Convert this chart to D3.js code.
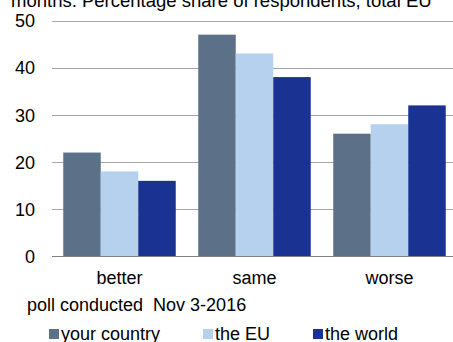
<!DOCTYPE html>
<html>
<head>
<meta charset="utf-8">
<script src="https://cdn.jsdelivr.net/npm/d3@7/dist/d3.min.js"></script>
<style>
  html, body { margin: 0; padding: 0; background: #fff; }
  svg { display: block; font-family: "Liberation Sans", Arial, sans-serif; }
  text { white-space: pre; }
</style>
</head>
<body>
<svg id="chart" width="453" height="342"></svg>
<script>
// Expectations poll: share of respondents (%)
const categories = ["better", "same", "worse"];
const seriesNames = ["your country", "the EU", "the world"];
const yourCountry = [22, 47, 26];
const theEU = [18, 43, 28];
const theWorld = [16, 38, 32];
const yTicks = [0, 10, 20, 30, 40, 50];
const titleText = "months. Percentage share of respondents, total EU";
const noteText = "poll conducted  Nov 3-2016";

const colors = ["#5c7188", "#b5d1ee", "#1a3393"];
const seriesValues = [yourCountry, theEU, theWorld];

const svg = d3.select("#chart");
const plot = { left: 52, right: 457, top: 20.5, bottom: 256.3 };

const x0 = d3.scaleBand().domain(categories)
  .range([plot.left, plot.right]).paddingInner(1 / 6).paddingOuter(1 / 12);
const x1 = d3.scaleBand().domain(seriesNames)
  .range([0, x0.bandwidth()]).padding(0);
const y = d3.scaleLinear().domain([0, 50]).range([plot.bottom, plot.top]);

// title line, partly clipped at the top edge
svg.append("text")
  .attr("x", 11).attr("y", 7)
  .attr("font-size", 18.5).attr("fill", "#000")
  .text(titleText);

// gridlines
svg.append("g").selectAll("line")
  .data(yTicks.filter(d => d > 0))
  .join("line")
  .attr("x1", plot.left).attr("x2", 453)
  .attr("y1", d => Math.round(y(d)) + 0.5).attr("y2", d => Math.round(y(d)) + 0.5)
  .attr("stroke", "#a6a6a6").attr("stroke-width", 1);

// y axis labels
const yAxis = d3.axisLeft(y).tickValues(yTicks).tickSize(0).tickPadding(0);
const gy = svg.append("g").attr("transform", `translate(${plot.left - 17},0)`).call(yAxis);
gy.select(".domain").remove();
gy.selectAll("text").attr("font-size", 18).attr("fill", "#000")
  .attr("font-family", "Liberation Sans, Arial, sans-serif").attr("dy", "0.35em");

// bars
const groups = svg.append("g").selectAll("g")
  .data(categories)
  .join("g")
  .attr("transform", d => `translate(${x0(d)},0)`);

groups.selectAll("rect")
  .data((c, i) => seriesNames.map((s, k) => ({ s, k, v: seriesValues[k][i] })))
  .join("rect")
  .attr("x", d => x1(d.s))
  .attr("width", x1.bandwidth())
  .attr("y", d => y(d.v))
  .attr("height", d => y(0) - y(d.v))
  .attr("fill", d => colors[d.k]);

// baseline
svg.append("line")
  .attr("x1", plot.left).attr("x2", 453)
  .attr("y1", Math.round(y(0)) + 0.5).attr("y2", Math.round(y(0)) + 0.5)
  .attr("stroke", "#808080").attr("stroke-width", 1.2);

// category labels
const xAxis = d3.axisBottom(x0).tickSize(0).tickPadding(0);
const gx = svg.append("g").attr("transform", `translate(0,${plot.bottom})`).call(xAxis);
gx.select(".domain").remove();
gx.selectAll("text").attr("font-size", 18).attr("fill", "#000")
  .attr("font-family", "Liberation Sans, Arial, sans-serif")
  .attr("dy", null).attr("y", 28);

// note
svg.append("text")
  .attr("x", 27).attr("y", 311)
  .attr("font-size", 18).attr("fill", "#000")
  .text(noteText);

// legend
const legendX = [49, 203, 313];
const legend = svg.append("g").selectAll("g")
  .data(seriesNames)
  .join("g")
  .attr("transform", (d, i) => `translate(${legendX[i]},0)`);
legend.append("rect")
  .attr("x", 0).attr("y", 329).attr("width", 10).attr("height", 10)
  .attr("fill", (d, i) => colors[i]);
legend.append("text")
  .attr("x", 12).attr("y", 340)
  .attr("font-size", 18).attr("fill", "#000")
  .text(d => d);
</script>
</body>
</html>
